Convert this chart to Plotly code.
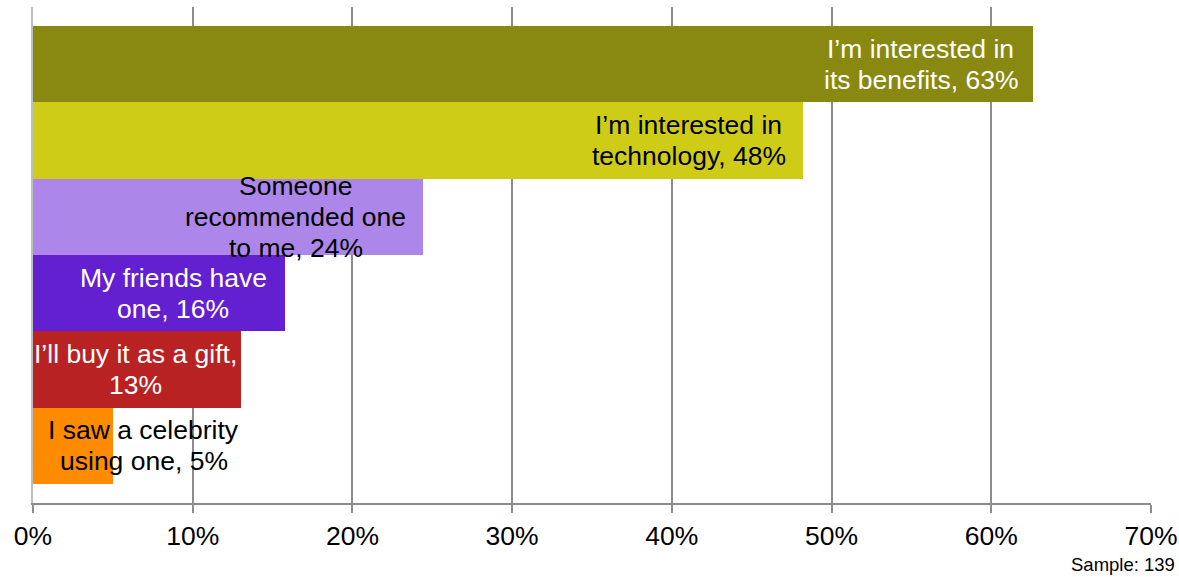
import plotly.graph_objects as go

# Reasons for buying, ordered top to bottom
reasons = [
    "I’m interested in<br>its benefits",
    "I’m interested in<br>technology",
    "Someone<br>recommended one<br>to me",
    "My friends have<br>one",
    "I’ll buy it as a gift,<br>",
    "I saw a celebrity<br>using one",
]
shares = [62.6, 48.2, 24.4, 15.8, 13.0, 5.0]
bar_colors = ["#898811", "#CECC16", "#AD86E9", "#6220D0", "#B92222", "#FF8C00"]
label_colors = ["white", "black", "black", "white", "white", "black"]

x_ticks = [0, 10, 20, 30, 40, 50, 60, 70]
x_tick_text = [f"{t}%" for t in x_ticks]
sample_note = "Sample: 139"

# horizontal offset (px) of each label's centre from the end of its bar
label_dx = [-112, -114, -127, -112, -105, 31]
LINE_STEP = 30.7
FONT = "Liberation Sans, Arial, sans-serif"


def label_lines(reason, value):
    parts = reason.split("<br>")
    pct = f"{round(value):.0f}%"
    if parts[-1] == "":
        parts[-1] = pct
    else:
        parts[-1] = f"{parts[-1]}, {pct}"
    return parts


ypos = list(range(len(reasons)))

fig = go.Figure(
    go.Bar(
        x=shares,
        y=ypos,
        orientation="h",
        marker=dict(color=bar_colors, line=dict(width=0)),
        width=1.0,
        hoverinfo="skip",
    )
)

annotations = []
for i, (reason, value) in enumerate(zip(reasons, shares)):
    lines = label_lines(reason, value)
    n = len(lines)
    for j, line in enumerate(lines):
        annotations.append(
            dict(
                x=value,
                y=i,
                xref="x",
                yref="y",
                text=line,
                showarrow=False,
                xanchor="center",
                yanchor="middle",
                xshift=label_dx[i],
                yshift=((n - 1) / 2 - j) * LINE_STEP,
                font=dict(family=FONT, size=26.5, color=label_colors[i]),
            )
        )

annotations.append(
    dict(
        x=1.0,
        y=0,
        xref="paper",
        yref="paper",
        xanchor="right",
        yanchor="middle",
        xshift=26,
        yshift=-61,
        text=sample_note,
        showarrow=False,
        font=dict(family=FONT, size=18.5, color="black"),
    )
)

fig.update_layout(
    width=1179,
    height=577,
    margin=dict(l=33, r=28, t=7, b=74),
    paper_bgcolor="white",
    plot_bgcolor="white",
    bargap=0,
    showlegend=False,
    annotations=annotations,
    xaxis=dict(
        range=[0, 70],
        tickvals=x_ticks,
        ticktext=x_tick_text,
        automargin=False,
        showgrid=True,
        gridcolor="#8C8C8C",
        gridwidth=2,
        zeroline=False,
        showline=True,
        linecolor="#8C8C8C",
        linewidth=2,
        ticks="outside",
        ticklen=8,
        tickwidth=2,
        tickcolor="#8C8C8C",
        tickfont=dict(family=FONT, size=26.5, color="black"),
        fixedrange=True,
    ),
    yaxis=dict(
        range=[5.75, -0.75],
        automargin=False,
        showticklabels=False,
        showgrid=False,
        zeroline=False,
        showline=True,
        linecolor="#BEBEBE",
        linewidth=2,
        ticks="",
        fixedrange=True,
    ),
)

fig.write_html("out.html")
